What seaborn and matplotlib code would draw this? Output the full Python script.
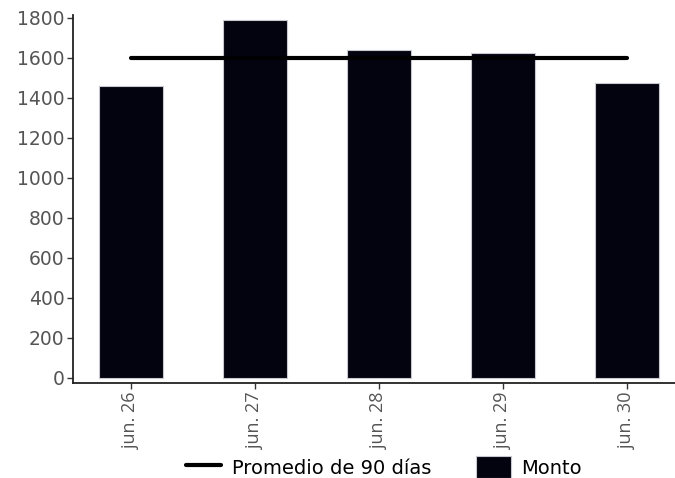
import matplotlib
matplotlib.use('Agg')
import matplotlib.pyplot as plt
import seaborn as sns

# Datos
dias = ['jun. 26', 'jun. 27', 'jun. 28', 'jun. 29', 'jun. 30']
montos = [1461, 1788, 1640, 1622, 1472]
promedio_90 = [1600, 1600, 1600, 1600, 1600]

sns.set_theme(style="ticks")
plt.rcParams['font.family'] = ['DejaVu Sans']

fig = plt.figure(figsize=(6.75, 4.78), dpi=100)
ax = fig.add_axes([0.108, 0.199, 0.907, 0.770])

sns.barplot(x=dias, y=montos, color='#03020f', width=0.52, edgecolor='#c8c8d0',
            linewidth=0.8, saturation=1, label='Monto', ax=ax)
sns.lineplot(x=dias, y=promedio_90, color='black', linewidth=3,
             label='Promedio de 90 días', ax=ax)

ax.set_xlim(-0.47, 4.47)
ax.set_ylim(-25, 1815)
ax.set_yticks(range(0, 1801, 200))
ax.set_xlabel('')
ax.set_ylabel('')

sns.despine(ax=ax)
for s in ['left', 'bottom']:
    ax.spines[s].set_color('#222222')
    ax.spines[s].set_linewidth(1.3)

ax.tick_params(axis='both', colors='#333333', labelcolor='#555555',
               length=4, width=1)
ax.tick_params(axis='y', labelsize=13.5, pad=2)
ax.tick_params(axis='x', rotation=90, pad=3)
for t in ax.get_xticklabels():
    t.set_fontfamily(['Open Sans', 'DejaVu Sans'])
    t.set_fontsize(13)

# leyenda abajo: primero la línea, después las barras
handles, labels = ax.get_legend_handles_labels()
orden = [labels.index('Promedio de 90 días'), labels.index('Monto')]
leg = ax.legend([handles[i] for i in orden], [labels[i] for i in orden],
                loc='center', bbox_to_anchor=(0.569, 1 - 467 / 478),
                bbox_transform=fig.transFigure, ncol=2, frameon=False,
                fontsize=14, handlelength=1.8, handleheight=1.3,
                handletextpad=0.57, columnspacing=2.27, borderpad=0)
for t in leg.get_texts():
    t.set_color('black')

fig.savefig('out.png', dpi=100)
